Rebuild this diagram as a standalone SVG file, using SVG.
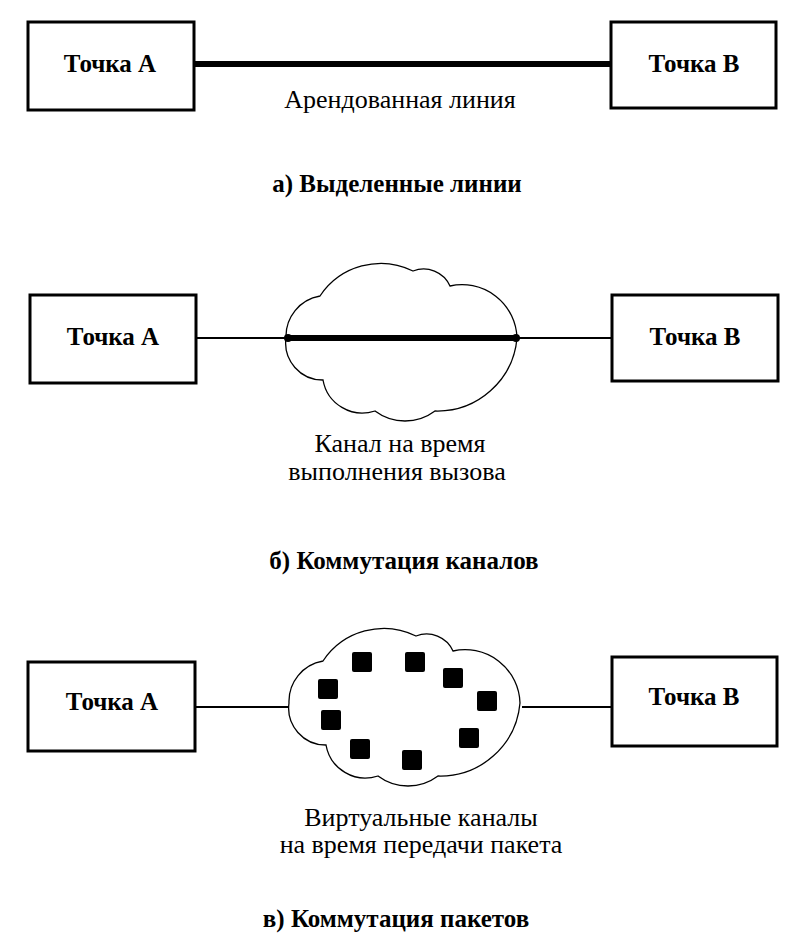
<svg xmlns="http://www.w3.org/2000/svg" width="801" height="949" viewBox="0 0 801 949">
<style>
.box{fill:#fff;stroke:#000;stroke-width:3}
.lbl{font-family:"Liberation Serif","Times New Roman",serif;font-weight:bold;font-size:25px;text-anchor:middle;fill:#000}
.txt{font-family:"Liberation Serif","Times New Roman",serif;font-size:26px;text-anchor:middle;fill:#000}
.cap{font-family:"Liberation Serif","Times New Roman",serif;font-weight:bold;font-size:25px;text-anchor:middle;fill:#000}
.thin{stroke:#000;stroke-width:2;fill:none}
.thick{stroke:#000;stroke-width:6;fill:none}
.cloud{fill:#fff;stroke:#000;stroke-width:1.3}
.pkt{fill:#000}
</style>
<defs>
<path id="cloud" d="M286,338 A41,41 0 0 1 320,296 A73,73 0 0 1 413,271 A29,29 0 0 1 450,286 A55,55 0 0 1 517,338 A80,80 0 0 1 435,411 A50,50 0 0 1 375,411 A40,40 0 0 1 323,380 A37,37 0 0 1 286,338 Z"/>
</defs>

<!-- a) Leased lines -->
<g id="conn-a">
<line class="thick" x1="194" y1="64" x2="611" y2="64"/>
</g>
<g id="a-pointA">
<rect class="box" x="28" y="22" width="166" height="88"/>
<text class="lbl" x="110" y="72">Точка А</text>
</g>
<g id="a-pointB">
<rect class="box" x="611" y="22" width="165" height="86"/>
<text class="lbl" x="694" y="72">Точка В</text>
</g>
<text class="txt" x="400" y="108">Арендованная линия</text>
<text class="cap" x="397" y="192">а) Выделенные линии</text>

<!-- b) Circuit switching -->
<g id="conn-b">
<line class="thin" x1="196" y1="338" x2="612" y2="338"/>
</g>
<g id="b-cloud">
<use href="#cloud" class="cloud"/>
<line class="thick" x1="288" y1="338" x2="516" y2="338"/>
<circle cx="288" cy="338" r="4"/>
<circle cx="516" cy="338" r="4"/>
</g>
<g id="b-pointA">
<rect class="box" x="30" y="295" width="166" height="88"/>
<text class="lbl" x="113" y="345">Точка А</text>
</g>
<g id="b-pointB">
<rect class="box" x="612" y="295" width="166" height="86"/>
<text class="lbl" x="695" y="345">Точка В</text>
</g>
<text class="txt" x="400" y="452">Канал на время</text>
<text class="txt" x="397" y="480">выполнения вызова</text>
<text class="cap" x="404" y="569">б) Коммутация каналов</text>

<!-- c) Packet switching -->
<g id="conn-c">
<line class="thin" x1="195" y1="707" x2="292" y2="707"/>
<line class="thin" x1="522" y1="707" x2="612" y2="707"/>
</g>
<g id="c-cloud">
<use href="#cloud" class="cloud" transform="translate(3,365)"/>
<rect class="pkt" x="352" y="652" width="20" height="20" rx="2"/>
<rect class="pkt" x="405" y="652" width="20" height="20" rx="2"/>
<rect class="pkt" x="443" y="668" width="20" height="20" rx="2"/>
<rect class="pkt" x="477" y="691" width="20" height="20" rx="2"/>
<rect class="pkt" x="459" y="728" width="20" height="20" rx="2"/>
<rect class="pkt" x="402" y="750" width="20" height="20" rx="2"/>
<rect class="pkt" x="350" y="739" width="20" height="20" rx="2"/>
<rect class="pkt" x="321" y="710" width="20" height="20" rx="2"/>
<rect class="pkt" x="318" y="679" width="20" height="20" rx="2"/>
</g>
<g id="c-pointA">
<rect class="box" x="28" y="662" width="167" height="89"/>
<text class="lbl" x="112" y="710">Точка А</text>
</g>
<g id="c-pointB">
<rect class="box" x="612" y="657" width="165" height="89"/>
<text class="lbl" x="694" y="705">Точка В</text>
</g>
<text class="txt" x="421" y="826">Виртуальные каналы</text>
<text class="txt" x="421" y="853">на время передачи пакета</text>
<text class="cap" x="396" y="927">в) Коммутация пакетов</text>
</svg>
